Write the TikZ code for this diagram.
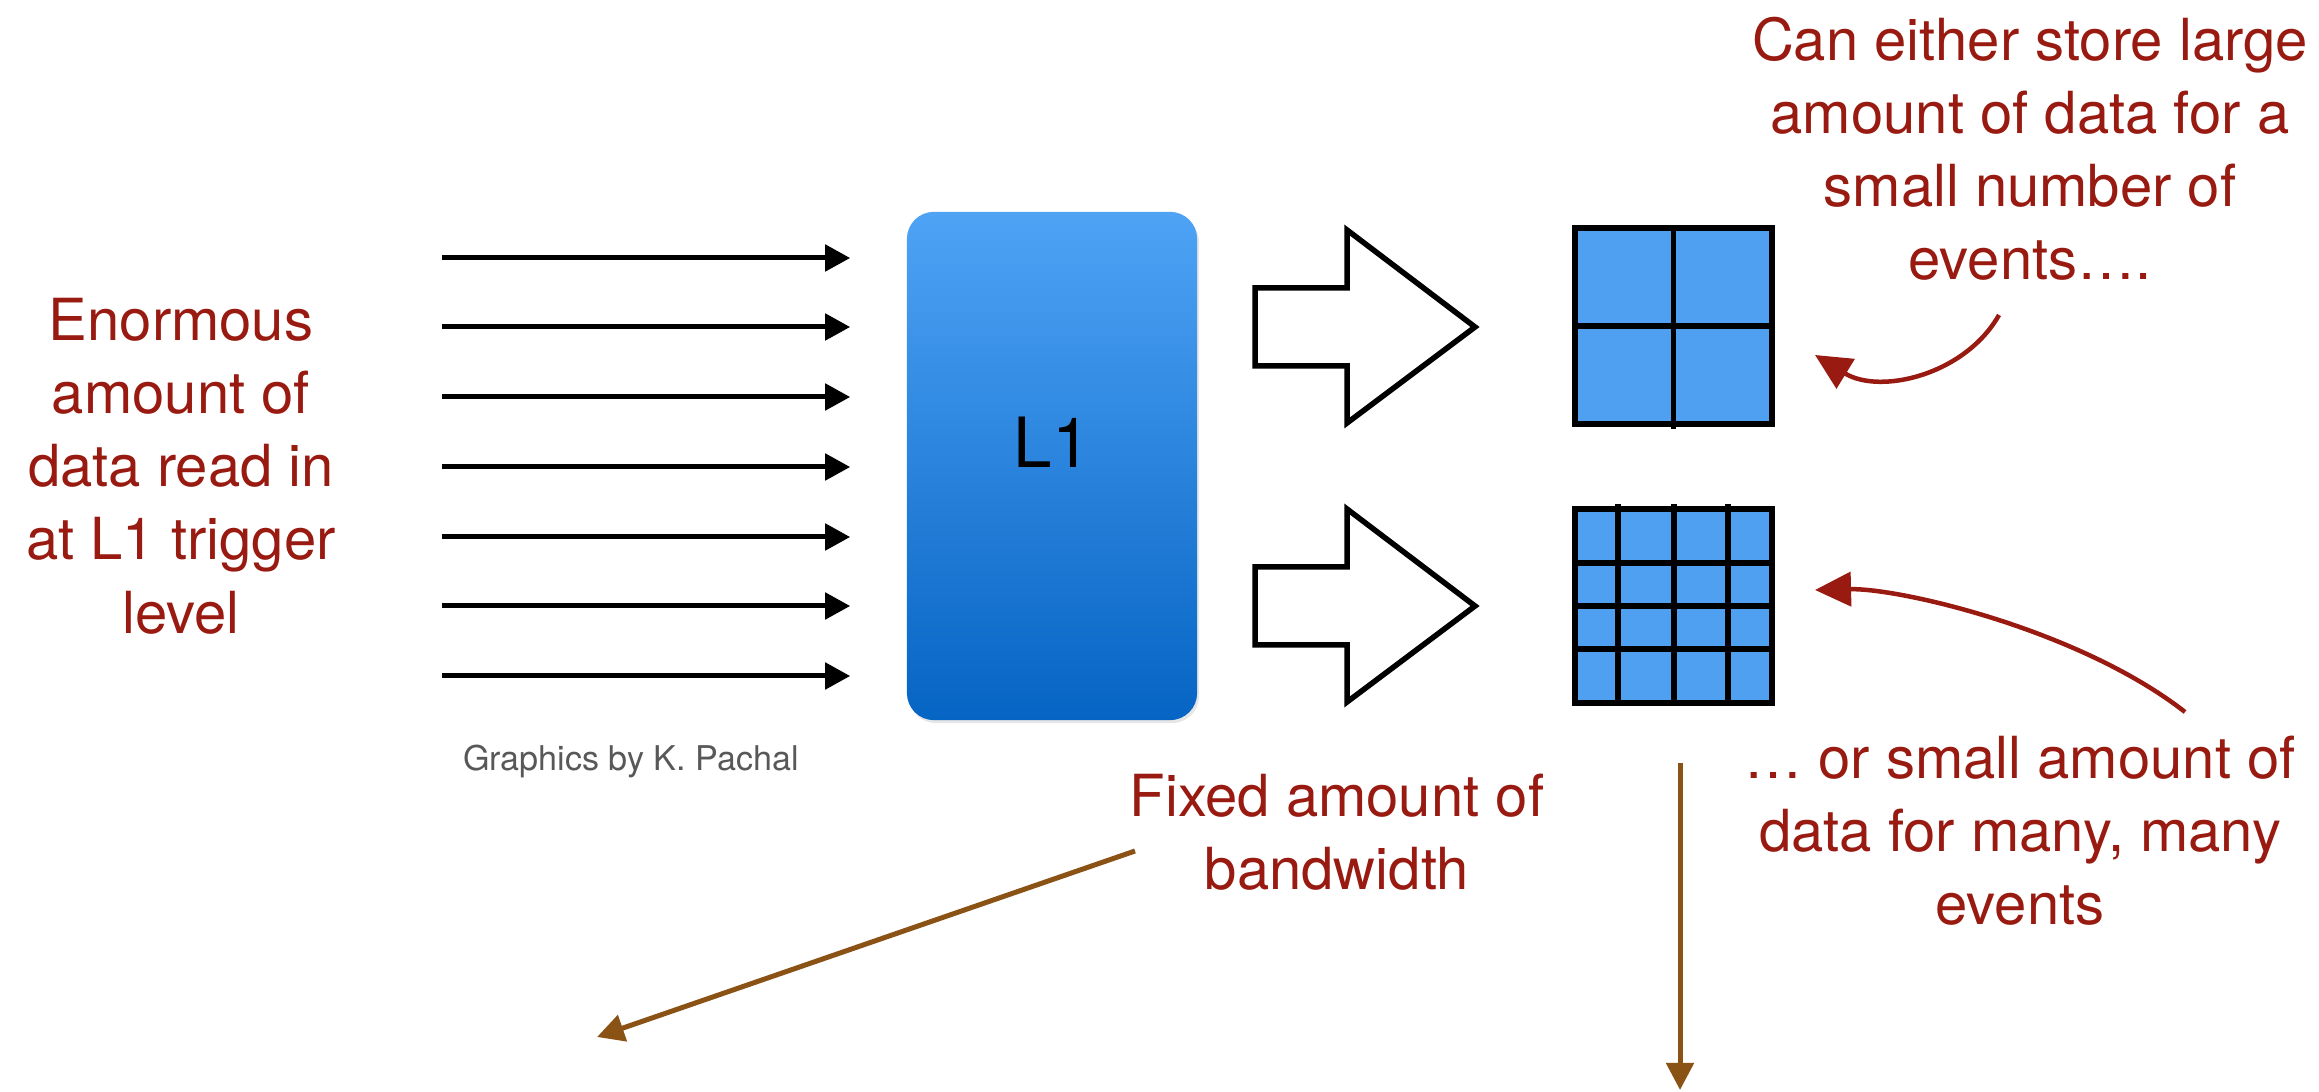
\documentclass[tikz,border=0pt]{standalone}
\usepackage{fontspec}
\setmainfont{TeX Gyre Heros}
\usepackage{tikz}
\usetikzlibrary{arrows.meta,calc,positioning,shadows}

\definecolor{noteRed}{RGB}{152,26,16}
\definecolor{barBrown}{RGB}{139,82,22}
\definecolor{cellBlue}{RGB}{80,160,242}
\definecolor{boxTop}{RGB}{78,163,245}
\definecolor{boxBot}{RGB}{6,100,196}
\definecolor{creditGray}{RGB}{88,88,88}

\begin{document}
\begin{tikzpicture}[x=0.01cm, y=-0.01cm,
  note/.style = {text=noteRed, align=center, inner sep=0pt,
                 font=\fontsize{16.5}{20.8}\selectfont},
  feed/.style = {line width=0.05cm, -{Triangle[length=0.25cm,width=0.26cm]}},
  bigarrow/.style = {draw=black, line width=0.055cm, fill=white, line join=miter},
  cellgrid/.style = {draw=black, line width=0.057cm, fill=cellBlue,
                     inner sep=0pt, outer sep=0pt},
  cellline/.style = {black, line width=0.055cm},
  scribble/.style = {noteRed, line width=0.045cm,
                     -{Triangle[length=0.36cm,width=0.34cm]}},
  pointer/.style = {barBrown, line width=0.05cm,
                    -{Triangle[length=0.27cm,width=0.27cm]}}]

\useasboundingbox (0,0) rectangle (2319,1092);

\node[note] (Enorm) at (181,466)
  {Enormous\\amount of\\data read in\\at L1 trigger\\level};

\node[rounded corners=0.27cm, top color=boxTop, bottom color=boxBot,
      minimum width=2.9cm, minimum height=5.08cm,
      drop shadow={opacity=0.2, shadow xshift=0.02cm, shadow yshift=-0.03cm}]
  (L1) at (1052,466) {};
\node[font=\fontsize{19.7}{24}\selectfont, inner sep=0pt]
  (L1lab) at ([yshift=0.24cm]L1.center) {L1};

\foreach \i/\yy in {1/258,2/327,3/397,4/467,5/537,6/606,7/676} {
  \coordinate (in\i) at (442,\yy);
  \draw[feed, shorten >=0.56cm] (in\i) -- (in\i -| L1.west);
}

\foreach \n/\yy in {top/327,bot/606} {
  \coordinate (P\n) at (1255,\yy);
  \draw[bigarrow] (P\n) ++(0,-39) -- ++(92,0) -- ++(0,-58) -- (1475,\yy)
    -- (1347,\yy+96) -- ++(0,-57) -- ++(-92,0) -- cycle;
}

\node[cellgrid, minimum width=1.97cm, minimum height=1.96cm]
  (BigCells) at (1673.5,326) {};
\draw[cellline] (BigCells.north) -- ([yshift=-0.05cm]BigCells.south);
\draw[cellline] (BigCells.west) -- (BigCells.east);

\node[cellgrid, minimum width=1.97cm, minimum height=1.94cm]
  (SmallCells) at (1673.5,606) {};
\foreach \xx in {1618,1674,1728}
  \draw[cellline] (\xx,504) -- (\xx,0 |- SmallCells.south);
\foreach \yy in {563,606,649}
  \draw[cellline] (SmallCells.west |- 0,\yy) -- (SmallCells.east |- 0,\yy);

\node[note] (Store) at (2030,149)
  {Can either store large\\amount of data for a\\small number of\\events\ldots.};
\node[note] (Many) at (2020,831)
  {\ldots{} or small amount of\\data for many, many\\events};
\node[note] (Fixed) at (1337,832) {Fixed amount of\\bandwidth};
\node[text=creditGray, font=\fontsize{9.7}{12}\selectfont, inner sep=0pt]
  (Credit) at (631,761) {Graphics by K. Pachal};

\coordinate (s1) at (1999,315);
\coordinate (t1) at (1815,355);
\draw[scribble] (s1) .. controls (1965,375) and (1880,395) .. (t1);
\coordinate (s2) at (2185,712);
\coordinate (t2) at (1815,590);
\draw[scribble] (s2) .. controls (2080,630) and (1900,588) .. (t2);

\coordinate (bwA) at (1135,851);
\coordinate (bwB) at (597,1037);
\draw[pointer] (bwA) -- (bwB);
\coordinate (dnA) at (1680,763);
\coordinate (dnB) at (1680,1090);
\draw[pointer] (dnA) -- (dnB);

\end{tikzpicture}
\end{document}
